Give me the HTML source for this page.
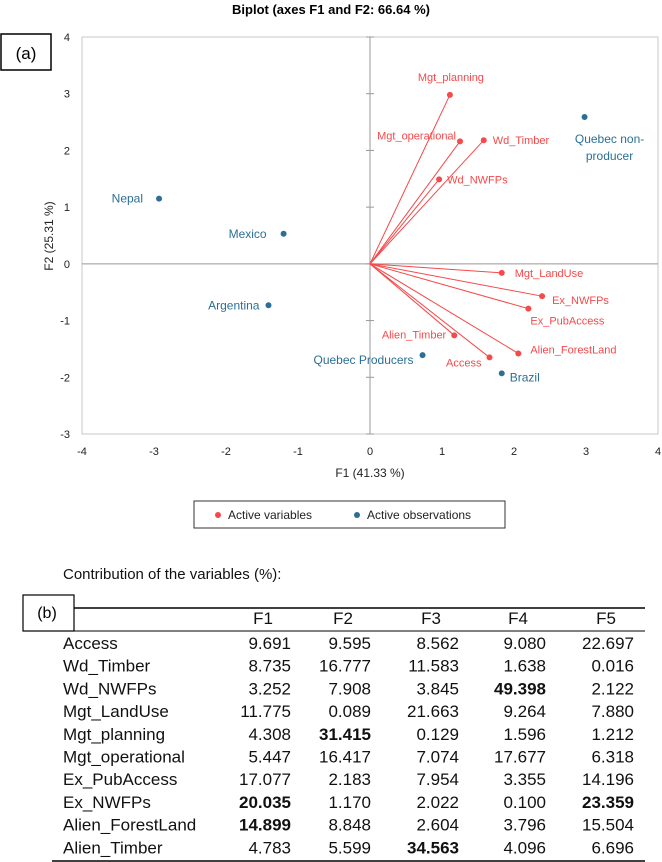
<!DOCTYPE html>
<html><head><meta charset="utf-8"><style>
body{margin:0;background:#fff;width:662px;height:862px;overflow:hidden;font-family:"Liberation Sans",sans-serif}
</style></head><body>
<svg id="chart" width="662" height="862" style="position:absolute;left:0;top:0"></svg>
<script>
const varNames=["Mgt_planning","Mgt_operational","Wd_Timber","Wd_NWFPs","Mgt_LandUse","Ex_NWFPs","Ex_PubAccess","Alien_Timber","Access","Alien_ForestLand"];
const varF1=[1.11,1.25,1.58,0.96,1.83,2.39,2.20,1.17,1.66,2.06];
const varF2=[2.98,2.16,2.18,1.49,-0.16,-0.57,-0.79,-1.26,-1.65,-1.58];
const obsNames=["Nepal","Mexico","Argentina","Quebec Producers","Brazil","Quebec non-producer"];
const obsF1=[-2.93,-1.20,-1.41,0.73,1.83,2.98];
const obsF2=[1.15,0.53,-0.73,-1.61,-1.93,2.59];
const xTicks=[-4,-3,-2,-1,0,1,2,3,4];
const yTicks=[-3,-2,-1,0,1,2,3,4];
const tblCols=["F1","F2","F3","F4","F5"];
const tblRows=["Access","Wd_Timber","Wd_NWFPs","Mgt_LandUse","Mgt_planning","Mgt_operational","Ex_PubAccess","Ex_NWFPs","Alien_ForestLand","Alien_Timber"];
const tblVals=[["9.691","9.595","8.562","9.080","22.697"],["8.735","16.777","11.583","1.638","0.016"],["3.252","7.908","3.845","49.398","2.122"],["11.775","0.089","21.663","9.264","7.880"],["4.308","31.415","0.129","1.596","1.212"],["5.447","16.417","7.074","17.677","6.318"],["17.077","2.183","7.954","3.355","14.196"],["20.035","1.170","2.022","0.100","23.359"],["14.899","8.848","2.604","3.796","15.504"],["4.783","5.599","34.563","4.096","6.696"]];
const tblBold=[[0,0,0,0,0],[0,0,0,0,0],[0,0,0,1,0],[0,0,0,0,0],[0,1,0,0,0],[0,0,0,0,0],[0,0,0,0,0],[1,0,0,0,1],[1,0,0,0,0],[0,0,1,0,0]];

const NS="http://www.w3.org/2000/svg";
const svg=document.getElementById('chart');
const L=82,R=658,T=37,B=434;
const X=v=>L+(v+4)/8*(R-L);
const Y=v=>B-(v+3)/7*(B-T);
function el(tag,attrs,parent){const e=document.createElementNS(NS,tag);for(const k in attrs)e.setAttribute(k,attrs[k]);(parent||svg).appendChild(e);return e;}
function txt(s,attrs){const e=el('text',attrs);e.textContent=s;return e;}
const RED="#f5494b",BLUE="#2b6f96";

let t=txt("Biplot (axes F1 and F2: 66.64 %)",{x:331,y:14,"text-anchor":"middle","font-size":"13","font-weight":"bold"});


let r=el('rect',{x:1,y:34,width:50,height:36,fill:"none",stroke:"#000","stroke-width":1.5});


t=txt("(a)",{x:26,y:59,"text-anchor":"middle","font-size":"17"});



r=el('rect',{x:L,y:T,width:R-L,height:B-T,fill:"none",stroke:"#c8c8c8","stroke-width":1});


let a=el('line',{x1:L,x2:R,y1:Y(0),y2:Y(0),stroke:"#999","stroke-width":1});


a=el('line',{x1:X(0),x2:X(0),y1:T,y2:B,stroke:"#999","stroke-width":1});


xTicks.forEach(v=>{
  const e=txt(String(v),{x:X(v),y:455,"text-anchor":"middle","font-size":"11",fill:"#222"});
  
  
});
yTicks.forEach(v=>{
  const e=txt(String(v),{x:70,y:Y(v)+4,"text-anchor":"end","font-size":"11",fill:"#222"});
  
  
  const k=el('line',{x1:X(0)-4,x2:X(0)+4,y1:Y(v),y2:Y(v),stroke:"#999"});
  
  
});
t=txt("F1 (41.33 %)",{x:X(0),y:477,"text-anchor":"middle","font-size":"12",fill:"#222"});


t=txt("F2 (25.31 %)",{x:0,y:0,"text-anchor":"middle","font-size":"12",fill:"#222",transform:"translate(53,236) rotate(-90)"});



const varLab={"Mgt_planning":[1,-14,'middle'],"Mgt_operational":[-4,-2,'end'],"Wd_Timber":[9,4,'start'],"Wd_NWFPs":[8,4,'start'],"Mgt_LandUse":[13,4,'start'],"Ex_NWFPs":[10,8,'start'],"Ex_PubAccess":[2,16,'start'],"Alien_Timber":[-8,3,'end'],"Access":[-8,9,'end'],"Alien_ForestLand":[12,0,'start']};
varNames.forEach((n,i)=>{
  const x=X(varF1[i]),y=Y(varF2[i]);
  const l=el('line',{x1:X(0),y1:Y(0),x2:x,y2:y,stroke:RED,"stroke-width":1});
  
  
  const c=el('circle',{cx:x,cy:y,r:3,fill:RED});
  
  
  const o=varLab[n];
  const e=txt(n,{x:x+o[0],y:y+o[1],"text-anchor":o[2],"font-size":"11",fill:RED});
  
  
});
const obsLab=[[-16,4,'end'],[-17,4,'end'],[-9,4,'end'],[-9,9,'end'],[8,8,'start'],[25,26,'middle']];
obsNames.forEach((n,i)=>{
  const x=X(obsF1[i]),y=Y(obsF2[i]);
  const c=el('circle',{cx:x,cy:y,r:3,fill:BLUE});
  
  
  const o=obsLab[i];
  if(n==="Quebec non-producer"){
    let e=txt("Quebec non-",{x:x+o[0],y:y+26,"text-anchor":"middle","font-size":"12",fill:BLUE});
    
    
    e=txt("producer",{x:x+o[0],y:y+43,"text-anchor":"middle","font-size":"12",fill:BLUE});
    
    
  } else {
    const e=txt(n,{x:x+o[0],y:y+o[1],"text-anchor":o[2],"font-size":"12",fill:BLUE});
    
    
  }
});

const lg=el('g',{});


el('rect',{x:194,y:501,width:311,height:27,fill:"#fff",stroke:"#333","stroke-width":1},lg);
let d=el('circle',{cx:218,cy:515,r:3,fill:RED},lg);


let lt=el('text',{x:228,y:519,"font-size":"12",fill:"#222"},lg);lt.textContent="Active variables";


d=el('circle',{cx:357,cy:515,r:3,fill:BLUE},lg);


lt=el('text',{x:367,y:519,"font-size":"12",fill:"#222"},lg);lt.textContent="Active observations";



// table
t=txt("Contribution of the variables (%):",{x:63,y:579,"font-size":"15",fill:"#111"});


r=el('rect',{x:23,y:595,width:51,height:36,fill:"none",stroke:"#000","stroke-width":1.2});


t=txt("(b)",{x:47,y:618,"text-anchor":"middle","font-size":"16"});


[[74,608,1.6],[74,631,1],[52,861,1.6]].forEach(([x1,y,w],i)=>{
  const l=el('line',{x1:x1,x2:645,y1:y,y2:y,stroke:"#000","stroke-width":w});
  
  
});
const colRight=[291,371,459,546,634];
tblCols.forEach((c,j)=>{
  const e=txt(c,{x:colRight[j]-28,y:624,"text-anchor":"middle","font-size":"17",fill:"#111"});
  
  
});
tblRows.forEach((n,i)=>{
  const y=649+i*22.7;
  const e=txt(n,{x:63,y:y,"font-size":"17",fill:"#111"});
  
  
  tblVals[i].forEach((v,j)=>{
    const c=txt(v,{x:colRight[j],y:y,"text-anchor":"end","font-size":"17",fill:"#111","font-weight":tblBold[i][j]?"bold":"normal"});
    
    
  });
});
</script>
</body></html>
